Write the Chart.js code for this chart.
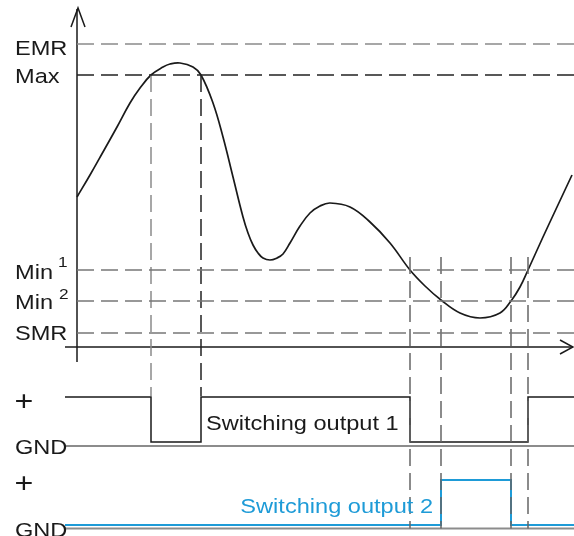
<!DOCTYPE html>
<html>
<head>
<meta charset="utf-8">
<script src="https://cdn.jsdelivr.net/npm/chart.js@4.4.1/dist/chart.umd.min.js"></script>
<style>
  html, body { margin: 0; padding: 0; background: #ffffff; }
  canvas { display: block; }
</style>
</head>
<body>
<canvas id="chart" width="574" height="536"></canvas>
<script>
// Analog signal over time (time 0 = y axis, level 0 = SMR)
const TIME = [0, 13, 26, 40, 53, 63, 74, 86, 93, 103, 116, 124, 136, 146, 156, 166, 171, 176, 181, 186, 193,
  200, 206, 213, 223, 233, 243, 253, 273, 293, 313, 333, 348, 364, 383, 403, 423, 434, 443, 451, 466, 480, 495];
const SIGNAL = [136, 158, 181, 206, 230, 245, 258, 266, 269, 270, 266, 258, 230, 196, 156, 116, 100, 88, 80, 75, 73,
  75, 79, 90, 107, 120, 127, 130, 126, 111, 90, 63, 47, 33, 20, 15, 20, 32, 46, 63, 96, 126, 158];

// Threshold levels
const THRESH_NAMES = ['EMR', 'Max', 'Min', 'Min', 'SMR'];
const THRESH_SUP = ['', '', '1', '2', ''];
const THRESH_LEVELS = [289, 258, 63, 32, 0];

// Switching instants (crossings of Max / Min 1 / Min 2)
const OUT1_EDGES = [74, 124, 333, 451];
const OUT2_EDGES = [364, 434];

// Levels of the two switching outputs on the same vertical scale
const OUT1_HIGH = -64, OUT1_LOW = -109, OUT1_GND = -113;
const OUT2_HIGH = -147, OUT2_LOW = -192, OUT2_GND = -195.5;

const T_MIN = -77, T_MAX = 497;
const V_MIN = -203, V_MAX = 333;

const BLUE = '#1e9bd7';
const INK = '#1a1a1a';
const SX = 1.15; // the lettering in the drawing is slightly wide

function pts(ts, vs) {
  return ts.map((t, i) => ({ x: t, y: vs[i] }));
}

// step signal built from its switching instants
function stepSignal(edges, startHigh, hi, lo, t0, t1) {
  let level = startHigh ? hi : lo;
  const out = [{ x: t0, y: level }];
  edges.forEach(t => {
    out.push({ x: t, y: level });
    level = level === hi ? lo : hi;
    out.push({ x: t, y: level });
  });
  out.push({ x: t1, y: level });
  return out;
}

function line(data, color, width, dash) {
  return {
    data: data,
    showLine: true,
    borderColor: color,
    borderWidth: width,
    borderDash: dash || [],
    pointRadius: 0,
    fill: false,
    tension: 0
  };
}

const DASH = [17, 7];
const hColors = ['#8a8a8a', '#222222', '#777777', '#777777', '#777777'];
const markColors = ['#8a8a8a', '#222222', '#666666', '#666666', '#666666', '#666666'];

const datasets = [];

// horizontal threshold lines
THRESH_LEVELS.forEach((lv, i) => {
  datasets.push(line([{ x: 0, y: lv }, { x: T_MAX, y: lv }], hColors[i], 1.5, DASH));
});

// vertical marker lines at the switching instants
const marks = [OUT1_EDGES[0], OUT1_EDGES[1], OUT1_EDGES[2], OUT2_EDGES[0], OUT2_EDGES[1], OUT1_EDGES[3]];
marks.forEach((t, i) => {
  const top = i < 2 ? THRESH_LEVELS[1] : 76;
  const bottom = i < 2 ? OUT1_HIGH + 1 : OUT2_GND;
  datasets.push(line([{ x: t, y: top }, { x: t, y: bottom }], markColors[i], 1.5, DASH));
});

// axes with arrow heads
datasets.push(line([{ x: 0, y: 324 }, { x: 0, y: -29 }], INK, 1.5));
datasets.push(line([{ x: -6, y: 306 }, { x: 1, y: 325 }, { x: 8, y: 306 }], INK, 1.5));
datasets.push(line([{ x: -12, y: -14 }, { x: 496, y: -14 }], INK, 1.5));
datasets.push(line([{ x: 483, y: -7 }, { x: 496, y: -14 }, { x: 483, y: -21 }], INK, 1.5));

// ground lines
datasets.push(line([{ x: -12, y: OUT1_GND }, { x: T_MAX, y: OUT1_GND }], '#8c8c8c', 2));
datasets.push(line([{ x: -12, y: OUT2_GND }, { x: T_MAX, y: OUT2_GND }], '#8c8c8c', 2));

// switching outputs
datasets.push(line(stepSignal(OUT1_EDGES, true, OUT1_HIGH, OUT1_LOW, -12, T_MAX), INK, 1.5));
datasets.push(line(stepSignal(OUT2_EDGES, false, OUT2_HIGH, OUT2_LOW, -12, T_MAX), BLUE, 2));

// analog signal
datasets.push({
  data: pts(TIME, SIGNAL),
  showLine: true,
  borderColor: INK,
  borderWidth: 1.7,
  pointRadius: 0,
  fill: false,
  tension: 0.4
});

function drawText(ctx, txt, x, y, size, color, align) {
  ctx.save();
  ctx.font = size + 'px "Liberation Sans", Arial, Helvetica, sans-serif';
  ctx.fillStyle = color;
  ctx.textBaseline = 'alphabetic';
  ctx.textAlign = align || 'left';
  ctx.translate(x, y);
  ctx.scale(SX, 1);
  ctx.fillText(txt, 0, 0);
  ctx.restore();
}

const labelPlugin = {
  id: 'labels',
  afterDatasetsDraw(chart) {
    const ctx = chart.ctx;
    const xs = chart.scales.x, ys = chart.scales.y;
    const X = t => xs.getPixelForValue(t);
    const Y = v => ys.getPixelForValue(v);
    const base = [-11, -8, -9, -8, -7];
    const supX = [0, 0, -19, -18, 0];
    const supDy = [0, 0, 3, 2, 0];

    THRESH_NAMES.forEach((name, i) => {
      drawText(ctx, name, X(-62), Y(THRESH_LEVELS[i] + base[i]), 20.5, INK);
      if (THRESH_SUP[i]) {
        drawText(ctx, THRESH_SUP[i], X(supX[i]), Y(THRESH_LEVELS[i] + supDy[i]), 15, INK);
      }
    });

    drawText(ctx, '+', X(-53), Y(OUT1_HIGH - 13), 28, INK, 'center');
    drawText(ctx, 'GND', X(-62), Y(OUT1_GND - 8), 20.5, INK);
    drawText(ctx, '+', X(-53), Y(OUT2_HIGH - 12), 28, INK, 'center');
    drawText(ctx, 'GND', X(-62), Y(OUT2_GND - 8.5), 20.5, INK);

    drawText(ctx, 'Switching output 1', X(129), Y(-97), 20.5, INK);
    drawText(ctx, 'Switching output 2', X(356), Y(-180), 20.5, BLUE, 'right');
  }
};

new Chart(document.getElementById('chart'), {
  type: 'scatter',
  data: { datasets: datasets },
  options: {
    responsive: false,
    animation: false,
    events: [],
    layout: { padding: 0 },
    plugins: {
      legend: { display: false },
      tooltip: { enabled: false }
    },
    scales: {
      x: { type: 'linear', display: false, min: T_MIN, max: T_MAX },
      y: { type: 'linear', display: false, min: V_MIN, max: V_MAX }
    }
  },
  plugins: [labelPlugin]
});
</script>
</body>
</html>
